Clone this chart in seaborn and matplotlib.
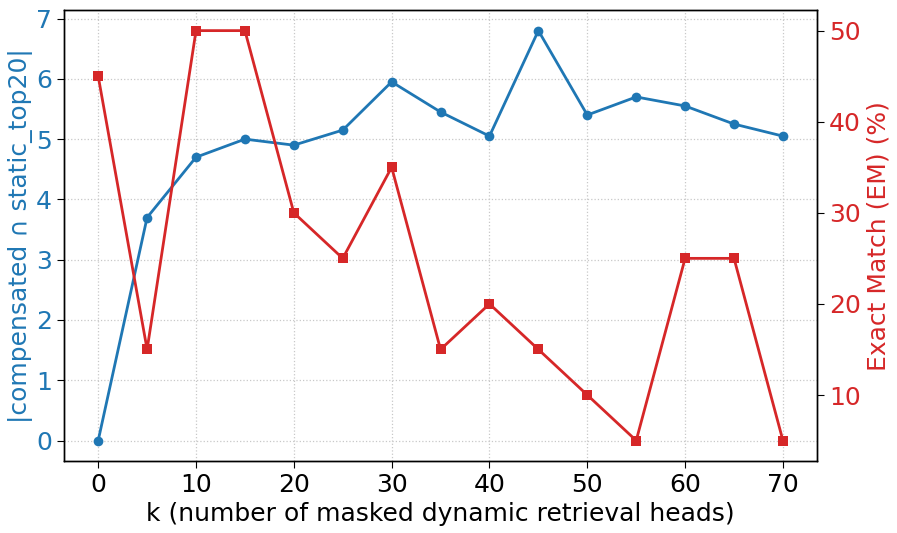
import numpy as np
import pandas as pd
import matplotlib
matplotlib.use('Agg')
import matplotlib.pyplot as plt
import seaborn as sns

k_values = [0, 5, 10, 15, 20, 25, 30, 35, 40, 45, 50, 55, 60, 65, 70]
overlap = [0, 3.7, 4.7, 5.0, 4.9, 5.15, 5.95, 5.45, 5.05, 6.8, 5.4, 5.7, 5.55, 5.25, 5.05]
exact_match = [45, 15, 50, 50, 30, 25, 35, 15, 20, 15, 10, 5, 25, 25, 5]

df = pd.DataFrame({'k': k_values, 'overlap': overlap, 'em': exact_match})

sns.set_style('white')
plt.rcParams['font.family'] = ['DejaVu Sans']
plt.rcParams['text.color'] = 'black'
plt.rcParams['axes.labelcolor'] = 'black'
plt.rcParams['xtick.color'] = 'black'
plt.rcParams['ytick.color'] = 'black'

blue = '#1f77b4'
red = '#d62728'

fig, ax1 = plt.subplots(figsize=(8.97, 5.33), dpi=100)
fig.subplots_adjust(left=0.0713, right=0.911, top=0.981, bottom=0.135)

sns.lineplot(data=df, x='k', y='overlap', ax=ax1, color=blue, marker='o',
             markersize=7, markeredgewidth=0, linewidth=2)
ax1.set_xlabel('k (number of masked dynamic retrieval heads)', fontsize=18)
ax1.set_ylabel('|compensated ∩ static_top20|', fontsize=18, color=blue, labelpad=2)
ax1.tick_params(axis='y', labelcolor=blue, labelsize=18, left=True, length=5)
ax1.tick_params(axis='x', labelsize=18, bottom=True, length=5)
ax1.set_xticks([0, 10, 20, 30, 40, 50, 60, 70])
ax1.grid(True, linestyle=':', color='#c8c8c8', linewidth=0.9)

ax2 = ax1.twinx()
sns.lineplot(data=df, x='k', y='em', ax=ax2, color=red, marker='s',
             markersize=7, markeredgewidth=0, linewidth=2)
ax2.set_ylabel('Exact Match (EM) (%)', fontsize=18, color=red)
ax2.tick_params(axis='y', labelcolor=red, labelsize=18, right=True, length=5)
ax2.set_yticks([10, 20, 30, 40, 50])

for a in (ax1, ax2):
    for s in a.spines.values():
        s.set_color('black')
        s.set_linewidth(1)

plt.savefig('out.png', dpi=100)
